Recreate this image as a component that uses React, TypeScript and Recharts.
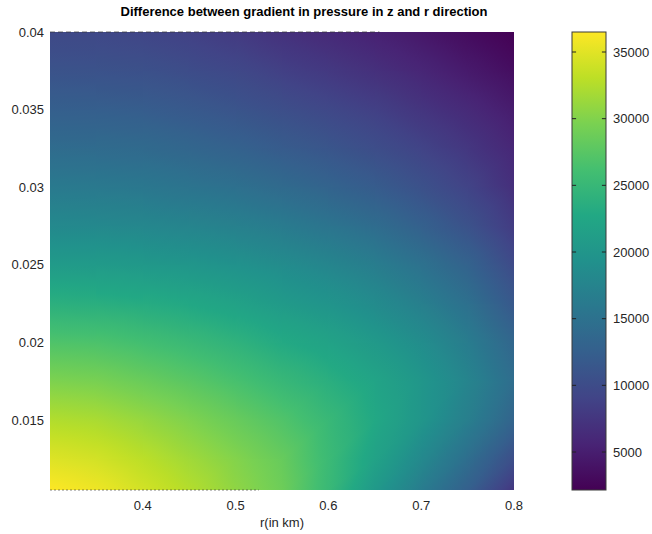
import { ComposedChart, XAxis, YAxis, ReferenceArea, ReferenceLine } from "recharts";

// grid of r (km) and z positions the pressure-gradient difference is sampled at
const rValues = [0.3, 0.35, 0.4, 0.45, 0.5, 0.55, 0.6, 0.65, 0.7, 0.75, 0.8];
const zValues = [0.0105, 0.0125, 0.015, 0.0175, 0.02, 0.0225, 0.025, 0.0275, 0.03, 0.0325, 0.035, 0.0375, 0.04];

// dp/dz - dp/dr, one row per z value (bottom to top), one column per r value
const dpDiff = [
  [36500, 35700, 34200, 32600, 30700, 28800, 25200, 20500, 16500, 12600, 7500],
  [34800, 34200, 33000, 31600, 30100, 28400, 25400, 21800, 18200, 14500, 10300],
  [32500, 32100, 31100, 29900, 28500, 27000, 25100, 22700, 20000, 16800, 13200],
  [29800, 29500, 28600, 27600, 26400, 25000, 23700, 22100, 20100, 17600, 14400],
  [26900, 26700, 26000, 25200, 24200, 22900, 21900, 20500, 18800, 16500, 13400],
  [23800, 23600, 23200, 22600, 21800, 20700, 19800, 18500, 16900, 14800, 11600],
  [20800, 20700, 20400, 20000, 19400, 18600, 17700, 16600, 15000, 13000, 9900],
  [18200, 18100, 17900, 17500, 17000, 16300, 15400, 14300, 12700, 10800, 8100],
  [16100, 16000, 15800, 15300, 14800, 14000, 13100, 12100, 10700, 9000, 6800],
  [14200, 14100, 13900, 13400, 12800, 12000, 11200, 10200, 9000, 7600, 5900],
  [12500, 12400, 12200, 11700, 11100, 10300, 9500, 8600, 7400, 6200, 4800],
  [10900, 10800, 10600, 10100, 9500, 8600, 7800, 6900, 5800, 4600, 3400],
  [9600, 9500, 9200, 8700, 8000, 7000, 6200, 5300, 4300, 3200, 2150],
];

const xTicks = [0.4, 0.5, 0.6, 0.7, 0.8];
const yTicks = [0.015, 0.02, 0.025, 0.03, 0.035, 0.04];
const colorbarTicks = [5000, 10000, 15000, 20000, 25000, 30000, 35000];

const allValues = dpDiff.flat();
const cMin = Math.min(...allValues);
const cMax = Math.max(...allValues);

const VIRIDIS = [
  "#440154", "#482475", "#414487", "#355f8d", "#2a788e", "#21918c",
  "#22a884", "#44bf70", "#7ad151", "#bddf26", "#fde725",
];

function hexToRgb(h: string) {
  return [1, 3, 5].map((i) => parseInt(h.slice(i, i + 2), 16));
}
const VIRIDIS_RGB = VIRIDIS.map(hexToRgb);

function viridis(t: number) {
  const c = Math.max(0, Math.min(1, t)) * (VIRIDIS_RGB.length - 1);
  const i = Math.min(Math.floor(c), VIRIDIS_RGB.length - 2);
  const f = c - i;
  const a = VIRIDIS_RGB[i];
  const b = VIRIDIS_RGB[i + 1];
  const m = a.map((v, k) => Math.round(v + (b[k] - v) * f));
  return `rgb(${m[0]},${m[1]},${m[2]})`;
}

const colorOf = (v: number) => viridis((v - cMin) / (cMax - cMin));

type Pt = [number, number, number];

// triangle shaded linearly between its three corner values
function Tri({ id, p }: { id: string; p: Pt[] }) {
  const [p1, p2, p3] = p;
  const dx2 = p2[0] - p1[0], dy2 = p2[1] - p1[1], dv2 = p2[2] - p1[2];
  const dx3 = p3[0] - p1[0], dy3 = p3[1] - p1[1], dv3 = p3[2] - p1[2];
  const det = dx2 * dy3 - dx3 * dy2;
  const a = det ? (dv2 * dy3 - dv3 * dy2) / det : 0;
  const b = det ? (dx2 * dv3 - dx3 * dv2) / det : 0;
  const g2 = a * a + b * b;
  const pts = p.map((q) => `${q[0]},${q[1]}`).join(" ");
  if (g2 < 1e-9) {
    return <polygon points={pts} fill={colorOf(p1[2])} shapeRendering="crispEdges" />;
  }
  const vs = p.map((q) => q[2]);
  const vmin = Math.min(...vs);
  const vmax = Math.max(...vs);
  const s = (vmin - p1[2]) / g2;
  const e = (vmax - p1[2]) / g2;
  const stops = [0, 0.25, 0.5, 0.75, 1];
  return (
    <g>
      <defs>
        <linearGradient
          id={id}
          gradientUnits="userSpaceOnUse"
          x1={p1[0] + a * s}
          y1={p1[1] + b * s}
          x2={p1[0] + a * e}
          y2={p1[1] + b * e}
        >
          {stops.map((t) => (
            <stop key={t} offset={t} stopColor={colorOf(vmin + t * (vmax - vmin))} />
          ))}
        </linearGradient>
      </defs>
      <polygon points={pts} fill={`url(#${id})`} shapeRendering="crispEdges" />
    </g>
  );
}

function cellShape(i: number, j: number) {
  return (props: any) => {
    const { x, y, width: w, height: h } = props;
    const bl: Pt = [x, y + h, dpDiff[j][i]];
    const br: Pt = [x + w, y + h, dpDiff[j][i + 1]];
    const tl: Pt = [x, y, dpDiff[j + 1][i]];
    const tr: Pt = [x + w, y, dpDiff[j + 1][i + 1]];
    return (
      <g>
        <Tri id={`c${i}-${j}-a`} p={[bl, br, tr]} />
        <Tri id={`c${i}-${j}-b`} p={[bl, tr, tl]} />
      </g>
    );
  };
}

const cells: { i: number; j: number }[] = [];
for (let j = 0; j < zValues.length - 1; j++) {
  for (let i = 0; i < rValues.length - 1; i++) cells.push({ i, j });
}

function colorbarShape(props: any) {
  const { x, y, width, height } = props;
  const n = VIRIDIS.length - 1;
  return (
    <g>
      <defs>
        <linearGradient id="cbar" x1="0" y1="1" x2="0" y2="0">
          {VIRIDIS.map((c, k) => (
            <stop key={c} offset={k / n} stopColor={c} />
          ))}
        </linearGradient>
      </defs>
      <rect x={x} y={y} width={width} height={height} fill="url(#cbar)" stroke="#3a3a3a" strokeWidth={1} />
    </g>
  );
}

const font = '"Liberation Sans", Arial, Helvetica, sans-serif';
const tickStyle = { fill: "#262626", fontSize: 13, fontFamily: font };

export default function App() {
  return (
    <div style={{ position: "absolute", left: 0, top: 0, width: 652, height: 534, background: "#fff", fontFamily: font }}>
      <div
        style={{
          position: "absolute",
          left: 0,
          top: 4,
          width: 608,
          textAlign: "center",
          fontWeight: "bold",
          fontSize: 13,
          color: "#000",
        }}
      >
        Difference between gradient in pressure in z and r direction
      </div>
      <div style={{ position: "absolute", left: 0, top: 0 }}>
        <ComposedChart width={540} height={534} margin={{ top: 32, right: 26, bottom: 4, left: 6 }}>
          <XAxis
            type="number"
            dataKey="r"
            domain={[0.3, 0.8]}
            ticks={xTicks}
            allowDataOverflow
            axisLine={false}
            tickLine={false}
            tickSize={0}
            tickMargin={11}
            height={40}
            tick={tickStyle}
            label={{ value: "r(in km)", position: "insideBottom", offset: 3, style: tickStyle }}
          />
          <YAxis
            type="number"
            dataKey="z"
            domain={[0.0105, 0.04]}
            ticks={yTicks}
            allowDataOverflow
            width={44}
            axisLine={false}
            tickLine={false}
            tickSize={0}
            tickMargin={6}
            tick={tickStyle}
          />
          {cells.map(({ i, j }) => (
            <ReferenceArea
              key={`${i}-${j}`}
              x1={rValues[i]}
              x2={rValues[i + 1]}
              y1={zValues[j]}
              y2={zValues[j + 1]}
              shape={cellShape(i, j)}
            />
          ))}
          <ReferenceLine
            segment={[{ x: 0.3, y: 0.04 }, { x: 0.655, y: 0.04 }]}
            stroke="#333"
            strokeOpacity={0.7}
            strokeDasharray="5 3"
          />
          <ReferenceLine
            segment={[{ x: 0.3, y: 0.0105 }, { x: 0.525, y: 0.0105 }]}
            stroke="#333"
            strokeOpacity={0.6}
            strokeDasharray="2 2"
          />
        </ComposedChart>
      </div>
      <div style={{ position: "absolute", left: 540, top: 0 }}>
        <ComposedChart width={112} height={534} margin={{ top: 32, right: 0, bottom: 0, left: 32 }}>
          <XAxis
            type="number"
            dataKey="x"
            domain={[0, 1]}
            allowDataOverflow
            height={44}
            axisLine={false}
            tickLine={false}
            tick={false}
          />
          <YAxis
            type="number"
            dataKey="v"
            orientation="right"
            domain={[cMin, cMax]}
            ticks={colorbarTicks}
            allowDataOverflow
            width={46}
            axisLine={false}
            tickLine={false}
            tickSize={0}
            tickMargin={7}
            tick={tickStyle}
          />
          <ReferenceArea x1={0} x2={1} y1={cMin} y2={cMax} shape={colorbarShape} />
          {colorbarTicks.map((v) => (
            <ReferenceLine key={`l${v}`} segment={[{ x: 0, y: v }, { x: 0.12, y: v }]} stroke="#222" />
          ))}
          {colorbarTicks.map((v) => (
            <ReferenceLine key={`r${v}`} segment={[{ x: 0.88, y: v }, { x: 1, y: v }]} stroke="#222" />
          ))}
        </ComposedChart>
      </div>
    </div>
  );
}
